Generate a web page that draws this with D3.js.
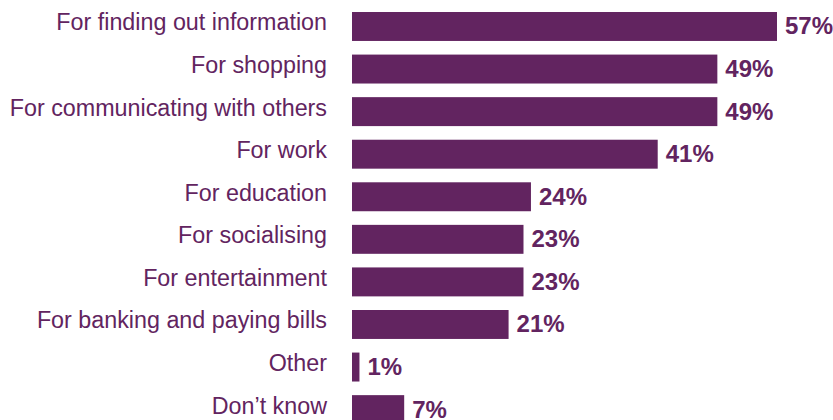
<!DOCTYPE html>
<html>
<head>
<meta charset="utf-8">
<script src="https://cdn.jsdelivr.net/npm/d3@7"></script>
<style>
  body { margin: 0; background: #fff; }
  svg { display: block; font-family: "Liberation Sans", Arial, sans-serif; }
</style>
</head>
<body>
<svg id="chart" width="833" height="420"></svg>
<script>
const categories = [
  'For finding out information',
  'For shopping',
  'For communicating with others',
  'For work',
  'For education',
  'For socialising',
  'For entertainment',
  'For banking and paying bills',
  'Other',
  'Don\u2019t know'
]
const values = [57, 49, 49, 41, 24, 23, 23, 21, 1, 7]

const color = '#622460'
const svg = d3.select('#chart')

// bars start at 352, 57% reaches 777
const x = d3.scaleLinear().domain([0, 57]).range([352, 777])

// row pitch ~42.6px, bar ~29px tall
const y = d3.scaleBand()
  .domain(categories)
  .range([5.2, 5.2 + 10 * 42.57])
  .paddingInner(0.32)
  .paddingOuter(0.16)

const rows = svg.selectAll('g.row')
  .data(categories.map((c, i) => ({ cat: c, val: values[i] })))
  .enter()
  .append('g')
  .attr('class', 'row')

rows.append('rect')
  .attr('x', x(0))
  .attr('y', d => y(d.cat))
  .attr('width', d => x(d.val) - x(0))
  .attr('height', y.bandwidth())
  .attr('fill', color)

rows.append('text')
  .attr('x', 327)
  .attr('y', d => y(d.cat) + y.bandwidth() / 2 + 4)
  .attr('text-anchor', 'end')
  .attr('font-size', 23.3)
  .attr('fill', color)
  .text(d => d.cat)

rows.append('text')
  .attr('x', d => x(d.val) + 8)
  .attr('y', d => y(d.cat) + y.bandwidth() / 2 + 8)
  .attr('font-size', 24)
  .attr('font-weight', 'bold')
  .attr('fill', color)
  .text(d => d.val + '%')
</script>
</body>
</html>
